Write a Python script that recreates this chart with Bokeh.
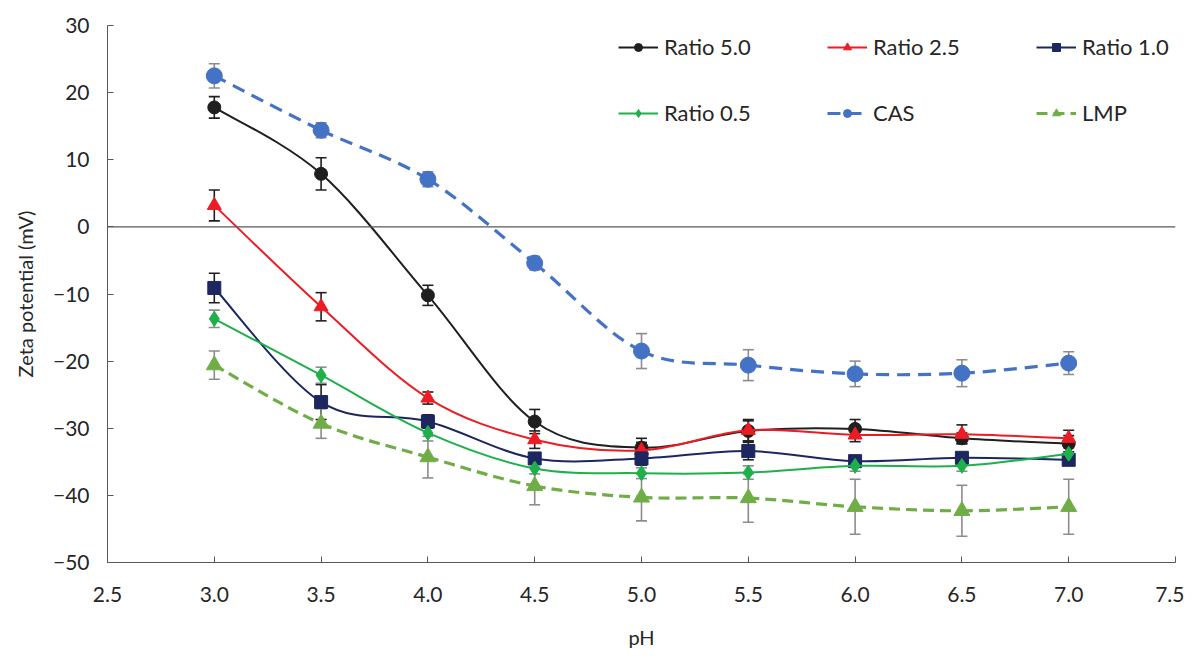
import numpy as np
from bokeh.plotting import figure
from bokeh.models import (ColumnDataSource, Whisker, TeeHead, Span, Legend, LegendItem,
                          FixedTicker)
from bokeh.embed import file_html
from bokeh.resources import INLINE

# ---------------- data ----------------
ph = [3.0, 3.5, 4.0, 4.5, 5.0, 5.5, 6.0, 6.5, 7.0]

ratio50 = [17.8, 7.9, -10.2, -29.0, -32.9, -30.4, -30.1, -31.5, -32.3]
ratio50_err = [1.6, 2.4, 1.5, 1.8, 1.4, 1.5, 1.4, 0.8, 1.2]

ratio25 = [3.2, -11.9, -25.5, -31.7, -33.3, -30.3, -31.0, -30.9, -31.5]
ratio25_err = [2.3, 2.1, 0.9, 1.3, 1.2, 1.6, 1.0, 1.4, 1.2]

ratio10 = [-9.1, -26.1, -29.0, -34.5, -34.5, -33.4, -34.9, -34.4, -34.7]
ratio10_err = [2.2, 2.6, 1.0, 0.8, 1.0, 1.3, 0.7, 0.7, 0.8]

ratio05 = [-13.7, -22.1, -30.7, -36.0, -36.7, -36.6, -35.6, -35.6, -33.8]
ratio05_err = [1.3, 1.2, 1.2, 0.8, 0.8, 1.0, 0.8, 0.8, 0.8]

cas = [22.5, 14.4, 7.1, -5.4, -18.5, -20.6, -21.9, -21.8, -20.3]
cas_err = [1.8, 1.1, 1.1, 1.0, 2.6, 2.3, 1.9, 2.0, 1.7]

lmp = [-20.6, -29.3, -34.3, -38.6, -40.3, -40.4, -41.7, -42.3, -41.7]
lmp_err = [2.1, 2.2, 3.1, 2.8, 3.5, 3.6, 4.1, 3.8, 4.1]

x_ticks = [2.5, 3.0, 3.5, 4.0, 4.5, 5.0, 5.5, 6.0, 6.5, 7.0, 7.5]
y_ticks = [-50, -40, -30, -20, -10, 0, 10, 20, 30]

FONT = "Lato"
AXIS_COL = "#595959"
TEXT_COL = "#262626"

p = figure(output_backend="svg", toolbar_location=None,
           width=1184, height=651,
           x_range=(2.5, 7.5), y_range=(-50, 30),
           min_border_left=107, min_border_top=25, min_border_right=9,
           min_border_bottom=88)
p.outline_line_color = None
p.grid.grid_line_color = None
p.background_fill_color = "white"

for ax in (p.xaxis[0], p.yaxis[0]):
    ax.axis_line_color = AXIS_COL
    ax.axis_line_width = 1
    ax.major_tick_line_color = AXIS_COL
    ax.major_tick_in = 6
    ax.major_tick_out = 0
    ax.minor_tick_line_color = None
    ax.major_label_text_font = FONT
    ax.major_label_text_font_size = "21px"
    ax.major_label_text_color = TEXT_COL
    ax.axis_label_text_font = FONT
    ax.axis_label_text_font_size = "20px"
    ax.axis_label_text_font_style = "normal"
    ax.axis_label_text_color = TEXT_COL

p.xaxis.ticker = FixedTicker(ticks=x_ticks)
p.yaxis.ticker = FixedTicker(ticks=y_ticks)
p.xaxis.major_label_overrides = {t: f"{t:.1f}" for t in x_ticks}
p.xaxis.major_label_standoff = 24
p.yaxis.major_label_standoff = 18
p.xaxis.axis_label = "pH"
p.yaxis.axis_label = "Zeta potential (mV)"
p.xaxis.axis_label_standoff = 20
p.yaxis.axis_label_standoff = 13

p.add_layout(Span(location=0, dimension="width", line_color=AXIS_COL, line_width=1.2))


def smooth_segments(xs, ys):
    """Catmull-Rom style (Excel 'smoothed line') Bezier control points."""
    xs = np.asarray(xs, float)
    ys = np.asarray(ys, float)
    n = len(xs)
    xp = np.concatenate([[xs[0]], xs, [xs[-1]]])
    yp = np.concatenate([[ys[0]], ys, [ys[-1]]])
    d = dict(x0=[], y0=[], x1=[], y1=[], cx0=[], cy0=[], cx1=[], cy1=[])
    for i in range(n - 1):
        j = i + 1
        d["x0"].append(xp[j]); d["y0"].append(yp[j])
        d["x1"].append(xp[j + 1]); d["y1"].append(yp[j + 1])
        d["cx0"].append(xp[j] + (xp[j + 1] - xp[j - 1]) / 6)
        d["cy0"].append(yp[j] + (yp[j + 1] - yp[j - 1]) / 6)
        d["cx1"].append(xp[j + 1] - (xp[j + 2] - xp[j]) / 6)
        d["cy1"].append(yp[j + 1] - (yp[j + 2] - yp[j]) / 6)
    return ColumnDataSource(d)


series = [
    ("Ratio 5.0", ratio50, ratio50_err, "#1f1f1f", "solid", 2, "circle", 13, "#1f1f1f"),
    ("Ratio 2.5", ratio25, ratio25_err, "#ed1c24", "solid", 2, "triangle", 14, "#1f1f1f"),
    ("Ratio 1.0", ratio10, ratio10_err, "#1c2660", "solid", 2, "square", 13, "#1f1f1f"),
    ("Ratio 0.5", ratio05, ratio05_err, "#1db04b", "solid", 2, "diamond", 15, "#8c8c8c"),
    ("CAS", cas, cas_err, "#4472c4", "13 8", 3.2, "circle", 16, "#8c8c8c"),
    ("LMP", lmp, lmp_err, "#70ad47", "11 6", 3.2, "triangle", 16, "#8c8c8c"),
]

items = []
for name, vals, err, col, dash, lw, marker, size, ecol in series:
    src = ColumnDataSource(dict(
        x=ph, y=vals,
        upper=[v + e for v, e in zip(vals, err)],
        lower=[v - e for v, e in zip(vals, err)],
    ))
    w = Whisker(source=src, base="x", upper="upper", lower="lower",
                line_color=ecol, line_width=1.6,
                upper_head=TeeHead(size=11, line_color=ecol, line_width=1.6),
                lower_head=TeeHead(size=11, line_color=ecol, line_width=1.6))
    p.add_layout(w)
    bz = p.bezier(x0="x0", y0="y0", x1="x1", y1="y1", cx0="cx0", cy0="cy0",
                  cx1="cx1", cy1="cy1", source=smooth_segments(ph, vals),
                  line_color=col, line_width=lw, line_dash=dash)
    sc = p.scatter(x="x", y="y", source=src, marker=marker, size=size,
                   fill_color=col, line_color=col)
    items.append(LegendItem(label=name, renderers=[bz, sc]))

for row, vy in ((items[:3], 502), (items[3:], 436)):
    lg = Legend(items=row, orientation="horizontal", location=(511, vy),
                glyph_width=40, glyph_height=20, label_standoff=6,
                label_width=150, spacing=13, padding=0, margin=0,
                border_line_color=None, background_fill_alpha=0,
                label_text_font=FONT, label_text_font_size="22px",
                label_text_color=TEXT_COL)
    p.add_layout(lg)

open("out.html", "w").write(file_html(p, INLINE))
